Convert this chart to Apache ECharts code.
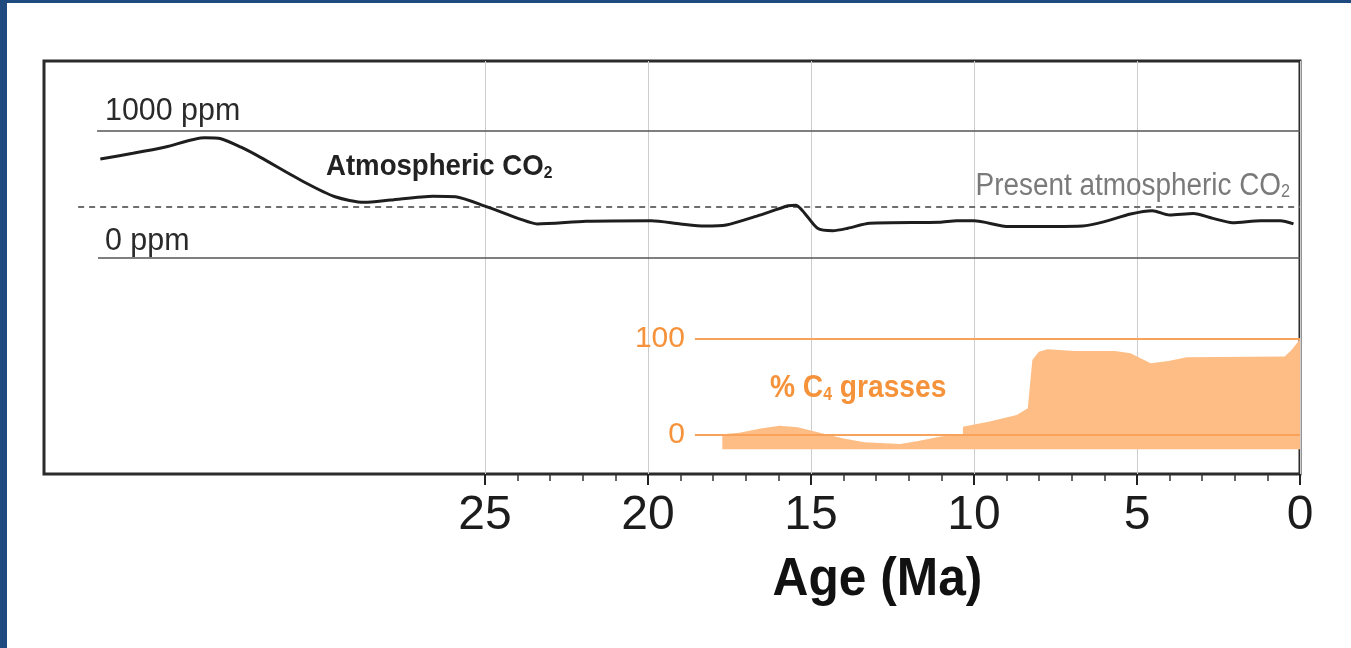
<!DOCTYPE html>
<html>
<head>
<meta charset="utf-8">
<script src="https://cdn.jsdelivr.net/npm/echarts@6/dist/echarts.min.js"></script>
<style>
html,body{margin:0;padding:0;background:#ffffff;}
#chart{width:1351px;height:648px;}
</style>
</head>
<body>
<div id="chart"></div>
<script>
// ---- data (age in Ma) ----
const co2Age = [36.8, 35.8, 34.8, 33.6, 33.1, 32.5, 31.9, 30.55, 29.6, 28.7, 27.9, 26.6, 25.9, 25.0, 23.9, 23.4, 21.9, 19.9, 19.0, 18.26, 17.6, 16.66, 15.7, 15.46, 15.19, 14.8, 14.33, 13.87, 13.2, 11.06, 10.53, 10.0, 8.93, 6.67, 6.0, 5.2, 4.53, 4.0, 3.27, 2.67, 2.07, 1.2, 0.6, 0.2];
const co2Ppm = [777, 822, 872, 945, 937, 872, 792, 596, 480, 436, 454, 485, 480, 406, 302, 266, 287, 291, 266, 250, 258, 328, 409, 414, 349, 232, 213, 232, 271, 279, 291, 291, 245, 250, 284, 344, 370, 336, 349, 310, 276, 291, 291, 266];

const c4Age = [17.72, 17.2, 16.5, 15.96, 15.41, 14.73, 14.04, 13.36, 12.26, 11.71, 11.02, 10.34, 10.34, 9.52, 8.69, 8.35, 8.21, 8.01, 7.74, 6.91, 5.68, 5.2, 4.58, 4.03, 3.48, 0.47, 0.26, 0.0];
const c4Pct = [0, 1.7, 6.2, 8.9, 7.2, 1.7, -4.2, -8.4, -10.2, -7.1, -2.4, 0, 7.9, 13.2, 20.1, 27, 77.4, 86, 88.5, 86.8, 86.8, 84.4, 74, 76.4, 80.2, 80.9, 87.8, 99];
const c4Base = -15.6;

const ageTickLabels = ['0', '5', '10', '15', '20', '25'];
const co2RefLevels = [1000, 0];
const co2RefLabels = ['1000 ppm', '0 ppm'];
const co2RefStart = [36.9, 36.87];
const presentCO2 = 400;
const presentStart = 37.48;
const c4RefLevels = [100, 0];
const c4RefLabels = ['100', '0'];
const c4RefStart = 18.56;

// ---- layout constants ----
const FONT = 'Liberation Sans';
const GRID_LEFT = 44, GRID_RIGHT = 51, GRID_TOP = 61, GRID_BOTTOM = 174;
const PX_PER_MA = 32.6;
const AGE_MAX = (1351 - GRID_LEFT - GRID_RIGHT) / PX_PER_MA;
const TICK_GRID_LEFT = 1351 - GRID_RIGHT - 25 * PX_PER_MA;

const ORANGE_TEXT = '#f5923a';
const ORANGE_LINE = '#f7a35c';
const ORANGE_FILL = '#fdbd85';

const chart = echarts.init(document.getElementById('chart'), null, {renderer: 'canvas'});

function pairs(xs, ys) { return xs.map((x, i) => [x, ys[i]]); }

const co2RefLines = co2RefLevels.map((v, i) => [
  {coord: [co2RefStart[i], v]},
  {coord: [0, v]}
]);
co2RefLines.push([
  {coord: [presentStart, presentCO2], lineStyle: {type: [6, 5], color: '#6e6e6e', width: 2}},
  {coord: [0, presentCO2]}
]);

const c4RefLines = c4RefLevels.map((v, i) => [
  {coord: [c4RefStart, v], label: {formatter: c4RefLabels[i]}},
  {coord: [0, v]}
]);

function textEl(x, y, text, rich, opts) {
  return Object.assign({
    type: 'text',
    x: x, y: y,
    z: 50,
    style: {
      text: text,
      rich: rich,
      x: 0, y: 0,
      align: opts.align, verticalAlign: 'middle',
      textAlign: opts.align, textVerticalAlign: 'middle',
      font: opts.font,
      fill: opts.fill
    }
  }, opts.extra || {});
}

const option = {
  animation: false,
  backgroundColor: '#ffffff',
  textStyle: {fontFamily: FONT},
  grid: [
    {left: GRID_LEFT, right: GRID_RIGHT, top: GRID_TOP, bottom: GRID_BOTTOM,
     show: true, borderColor: '#2b2b2b', borderWidth: 3, backgroundColor: 'transparent'},
    {left: TICK_GRID_LEFT, right: GRID_RIGHT, top: GRID_TOP, bottom: GRID_BOTTOM, show: false}
  ],
  xAxis: [
    {gridIndex: 0, type: 'value', inverse: true, min: 0, max: AGE_MAX, show: false},
    {gridIndex: 1, type: 'value', inverse: true, min: 0, max: 25, interval: 5,
     axisLine: {show: false},
     axisTick: {show: true, length: 11, lineStyle: {color: '#222', width: 2}},
     minorTick: {show: true, splitNumber: 5, length: 7, lineStyle: {color: '#333', width: 1.5}},
     axisLabel: {show: true, fontSize: 48, color: '#1c1c1c', margin: 18, fontFamily: FONT,
                 formatter: v => ageTickLabels[Math.round(v / 5)]},
     splitLine: {show: true, lineStyle: {color: '#cdcdcd', width: 1}},
     minorSplitLine: {show: false}}
  ],
  yAxis: [
    {gridIndex: 0, type: 'value', min: -1703, max: 1549, show: false},
    {gridIndex: 0, type: 'value', min: -41.4, max: 388.9, show: false},
    {gridIndex: 1, type: 'value', min: 0, max: 1, show: false}
  ],
  series: [
    {
      name: 'co2 refs', type: 'line', xAxisIndex: 0, yAxisIndex: 0, data: [], z: 1,
      markLine: {
        silent: true, symbol: ['none', 'none'], label: {show: false},
        lineStyle: {type: 'solid', color: '#555', width: 1.5},
        data: co2RefLines
      }
    },
    {
      name: 'C4 grasses', type: 'line', xAxisIndex: 0, yAxisIndex: 1,
      data: pairs(c4Age, c4Pct), symbol: 'none', smooth: false, z: 2,
      lineStyle: {width: 0, color: ORANGE_FILL},
      areaStyle: {color: ORANGE_FILL, opacity: 1, origin: c4Base},
      markLine: {
        silent: true, symbol: ['none', 'none'],
        lineStyle: {type: 'solid', color: ORANGE_LINE, width: 2},
        label: {show: true, position: 'start', distance: 10, color: ORANGE_TEXT,
                fontSize: 30, fontFamily: FONT},
        data: c4RefLines
      }
    },
    {
      name: 'Atmospheric CO2', type: 'line', xAxisIndex: 0, yAxisIndex: 0,
      data: pairs(co2Age, co2Ppm), symbol: 'none', smooth: 0.25, z: 5,
      lineStyle: {color: '#1e1e1e', width: 3}
    }
  ],
  graphic: {
    elements: [
      {type: 'rect', shape: {x: 0, y: 0, width: 7, height: 648}, style: {fill: '#1f4a80'}, z: 100},
      {type: 'rect', shape: {x: 0, y: 0, width: 1351, height: 3}, style: {fill: '#1f4a80'}, z: 100},
      textEl(105, 111.5, co2RefLabels[0], null, {align: 'left', font: '32px ' + FONT, fill: '#2a2a2a', extra: {scaleX: 0.95}}),
      textEl(105, 241.5, co2RefLabels[1], null, {align: 'left', font: '32px ' + FONT, fill: '#2a2a2a', extra: {scaleX: 0.95}}),
      textEl(326, 166.5, '{a|Atmospheric CO}{s|2}', {
          a: {fontSize: 30, fontWeight: 'bold', fontFamily: FONT, fill: '#222'},
          s: {fontSize: 17, fontWeight: 'bold', fontFamily: FONT, fill: '#222', verticalAlign: 'bottom'}
        }, {align: 'left', font: 'bold 30px ' + FONT, fill: '#222', extra: {scaleX: 0.92}}),
      textEl(1290, 186, '{a|Present atmospheric CO}{s|2}', {
          a: {fontSize: 31, fontFamily: FONT, fill: '#7a7a7a'},
          s: {fontSize: 18, fontFamily: FONT, fill: '#7a7a7a', verticalAlign: 'bottom'}
        }, {align: 'right', font: '31px ' + FONT, fill: '#7a7a7a', extra: {scaleX: 0.9}}),
      textEl(770, 388.5, '{a|% C}{s|4}{a| grasses}', {
          a: {fontSize: 32, fontWeight: 'bold', fontFamily: FONT, fill: ORANGE_TEXT},
          s: {fontSize: 18, fontWeight: 'bold', fontFamily: FONT, fill: ORANGE_TEXT, verticalAlign: 'bottom'}
        }, {align: 'left', font: 'bold 32px ' + FONT, fill: ORANGE_TEXT, extra: {scaleX: 0.88}}),
      textEl(877.5, 580, 'Age (Ma)', null, {align: 'center', font: 'bold 54px ' + FONT, fill: '#111', extra: {scaleX: 0.92}})
    ]
  }
};

chart.setOption(option);
</script>
</body>
</html>
